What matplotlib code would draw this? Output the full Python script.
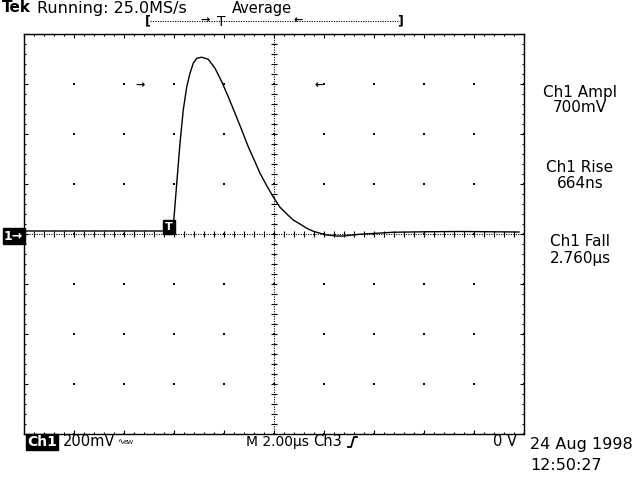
import matplotlib.pyplot as plt
from matplotlib.lines import Line2D
import numpy as np

# Ch1 trace (time in us from screen centre, volts in mV)
time_us = [-10.0, -7.0, -5.0, -4.04, -4.03, -3.89, -3.76, -3.63, -3.49, -3.36,
           -3.23, -3.09, -2.89, -2.63, -2.36, -2.09, -1.83, -1.56, -1.29, -1.03,
           -0.76, -0.56, -0.29, -0.03, 0.24, 0.51, 0.77, 1.04, 1.31, 1.57,
           1.84, 2.11, 2.51, 2.76, 3.44, 4.12, 4.76, 6.12, 7.44, 9.8]
ch1_mv = [12, 12, 12, 12, 29, 203, 363, 496, 589, 643,
          683, 703, 707, 699, 663, 609, 549, 483, 416, 349,
          289, 243, 193, 148, 107, 80, 56, 40, 23, 11,
          3, -4, -8, -8, -1, 3, 7, 9, 10, 8]

volts_per_div = 200   # mV
time_per_div = 2.0    # us
n_xdiv, n_ydiv = 10, 8

meas_labels = ["Ch1 Ampl", "Ch1 Rise", "Ch1 Fall"]
meas_values = ["700mV", "664ns", "2.760\u00b5s"]

W, H = 640, 480
def px(x, y):
    return x / W, 1 - y / H

fig = plt.figure(figsize=(6.4, 4.8), dpi=100)
ax = fig.add_axes([24 / W, (H - 434) / H, 500 / W, 400 / H])

xmax = n_xdiv / 2 * time_per_div
ymax = n_ydiv / 2 * volts_per_div
ax.set_xlim(-xmax, xmax)
ax.set_ylim(-ymax, ymax)

# graticule border ticks
ax.set_xticks(np.arange(-xmax, xmax + 0.01, time_per_div))
ax.set_yticks(np.arange(-ymax, ymax + 1, volts_per_div))
ax.set_xticks(np.arange(-xmax, xmax + 0.01, time_per_div / 5), minor=True)
ax.set_yticks(np.arange(-ymax, ymax + 1, volts_per_div / 5), minor=True)
ax.tick_params(which="both", direction="in", top=True, right=True,
               labelbottom=False, labelleft=False, color="black", width=0.8)
ax.tick_params(which="major", length=3)
ax.tick_params(which="minor", length=1.6)
for s in ax.spines.values():
    s.set_linewidth(1.0)

# dots at major intersections
gx, gy = np.meshgrid(np.arange(-xmax, xmax + 0.01, time_per_div),
                     np.arange(-ymax, ymax + 1, volts_per_div))
ax.scatter(gx.ravel(), gy.ravel(), s=0.6, color="black", marker="s", lw=0)

# centre cross with minor ticks
ax.axhline(0, color="black", lw=0.8, ls=(0, (1, 1.2)))
ax.axvline(0, color="black", lw=0.8, ls=(0, (1, 1.2)))
mx = np.arange(-xmax, xmax + 0.01, time_per_div / 5)
my = np.arange(-ymax, ymax + 1, volts_per_div / 5)
ax.plot(mx, np.zeros_like(mx), ls="none", marker="|", ms=4, mew=0.8, color="black")
ax.plot(np.zeros_like(my), my, ls="none", marker="_", ms=4, mew=0.8, color="black")

# waveform
ax.plot(time_us, ch1_mv, color="black", lw=1.0)

# trigger point marker and gate arrows
ax.text(-4.2, 28, "T", color="white", fontsize=8, fontweight="bold",
        ha="center", va="center",
        bbox=dict(boxstyle="square,pad=0.15", fc="black", ec="black"))
ax.text(-5.36, 596, "\u2192", fontsize=8, fontweight="bold", ha="center", va="center")
ax.text(1.8, 596, "\u2190", fontsize=8, fontweight="bold", ha="center", va="center")

# ground marker
fig.text(*px(4, 236), "1\u2192", color="white", fontsize=9, fontweight="bold",
         ha="left", va="center",
         bbox=dict(boxstyle="square,pad=0.1", fc="black", ec="black"))

# top status line
fig.text(*px(2, 8), "Tek", fontsize=11, fontweight="bold", ha="left", va="center")
fig.text(*px(37, 8), "Running: 25.0MS/s", fontsize=11.5, ha="left", va="center")
fig.text(*px(232, 8), "Average", fontsize=10.5, ha="left", va="center")

# record bar
fig.add_artist(Line2D([150 / W, 399 / W], [1 - 21 / H] * 2, color="black",
                      lw=0.8, ls=(0, (1, 1.2))))
fig.text(*px(148, 21), "[", fontsize=9, ha="center", va="center", fontweight="bold")
fig.text(*px(400, 21), "]", fontsize=9, ha="center", va="center", fontweight="bold")
fig.text(*px(205, 20), "\u2192", fontsize=8, fontweight="bold", ha="center", va="center")
fig.text(*px(221, 22), "T", fontsize=10, ha="center", va="center")
fig.text(*px(298, 20), "\u2190", fontsize=8, fontweight="bold", ha="center", va="center")

# measurement readouts
for i, (lab, val) in enumerate(zip(meas_labels, meas_values)):
    y0 = 92 + 75 * i
    fig.text(*px(580, y0), lab, fontsize=11, ha="center", va="center")
    fig.text(*px(580, y0 + 16), val, fontsize=11, ha="center", va="center")

# bottom status line
fig.text(*px(27, 442), "Ch1", color="white", fontsize=10, fontweight="bold",
         ha="left", va="center",
         bbox=dict(boxstyle="square,pad=0.05", fc="black", ec="black"))
fig.text(*px(63, 442), "200mV", fontsize=10.5, ha="left", va="center")
fig.text(*px(117, 442), "\u223f", fontsize=6, ha="left", va="center")
fig.text(*px(123, 443), "BW", fontsize=4.5, ha="left", va="center")
fig.text(*px(246, 442), "M 2.00\u00b5s", fontsize=10, ha="left", va="center")
fig.text(*px(313, 442), "Ch3", fontsize=10.5, ha="left", va="center")
fig.add_artist(Line2D([348 / W, 351 / W, 354 / W, 357 / W],
                      [1 - 447 / H, 1 - 447 / H, 1 - 437 / H, 1 - 437 / H],
                      color="black", lw=1.3))
fig.text(*px(517, 442), "0 V", fontsize=10.5, ha="right", va="center")
fig.text(*px(530, 444), "24 Aug 1998", fontsize=11.5, ha="left", va="center")
fig.text(*px(530, 465), "12:50:27", fontsize=11.5, ha="left", va="center")

fig.savefig("out.png", dpi=100)
